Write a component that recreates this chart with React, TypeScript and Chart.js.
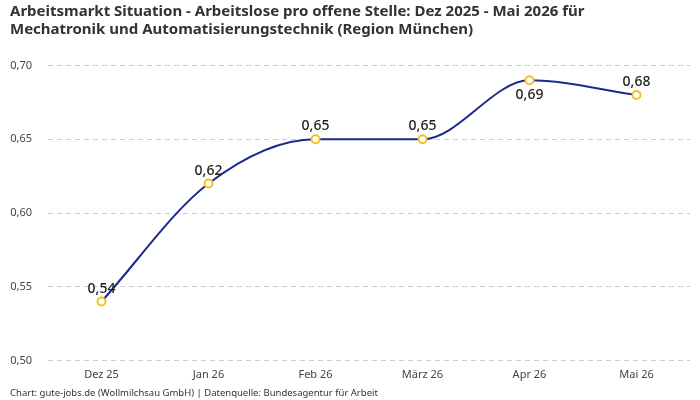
import React, { useEffect, useRef } from "react";
import { Chart, registerables } from "chart.js";

Chart.register(...registerables);

const categories = ["Dez 25", "Jan 26", "Feb 26", "März 26", "Apr 26", "Mai 26"];
const values = [0.54, 0.62, 0.65, 0.65, 0.69, 0.68];
const labelBelow = [false, false, false, false, true, false];
const titleLines = [
  "Arbeitsmarkt Situation - Arbeitslose pro offene Stelle: Dez 2025 - Mai 2026 für",
  "Mechatronik und Automatisierungstechnik (Region München)",
];
const footerText = "Chart: gute-jobs.de (Wollmilchsau GmbH) | Datenquelle: Bundesagentur für Arbeit";

const FONT = "'Noto Sans', 'DejaVu Sans', sans-serif";

const valueLabels = {
  id: "valueLabels",
  afterDatasetsDraw(chart: any) {
    const ctx = chart.ctx;
    const meta = chart.getDatasetMeta(0);
    ctx.save();
    ctx.font = `500 14px ${FONT}`;
    ctx.fillStyle = "#222";
    ctx.textAlign = "center";
    meta.data.forEach((pt: any, i: number) => {
      const txt = values[i].toFixed(2).replace(".", ",");
      if (labelBelow[i]) {
        ctx.textBaseline = "top";
        ctx.fillText(txt, pt.x, pt.y + 8);
      } else {
        ctx.textBaseline = "bottom";
        ctx.fillText(txt, pt.x, pt.y - 6);
      }
    });
    ctx.restore();
  },
};

export default function App() {
  const ref = useRef<HTMLCanvasElement>(null);
  useEffect(() => {
    document.body.style.margin = "0";
    const chart = new Chart(ref.current!, {
      type: "line",
      data: {
        labels: categories,
        datasets: [
          {
            data: values,
            borderColor: "#1b2a8f",
            borderWidth: 2,
            cubicInterpolationMode: "monotone",
            pointRadius: 4,
            pointBorderWidth: 2,
            pointBackgroundColor: "#ffffff",
            pointBorderColor: "#f5c022",
          },
        ],
      },
      options: {
        responsive: false,
        animation: false,
        layout: { padding: { left: 10, right: 10, top: 0, bottom: 0 } },
        plugins: {
          legend: { display: false },
          tooltip: { enabled: false },
          title: {
            display: true,
            text: titleLines,
            align: "start",
            color: "#333",
            font: { family: FONT, size: 15, weight: "bold", lineHeight: 1.25 },
            padding: { top: 2, bottom: 26 },
          },
          subtitle: {
            display: true,
            position: "bottom",
            text: footerText,
            align: "start",
            color: "#333",
            font: { family: FONT, size: 9.5 },
            padding: { top: 5, bottom: 1 },
          },
        },
        scales: {
          x: {
            offset: true,
            afterFit: (scale: any) => {
              scale.height = 22;
            },
            grid: { display: false, drawTicks: false },
            border: { display: false },
            ticks: { color: "#444", font: { family: FONT, size: 11 }, padding: 8 },
          },
          y: {
            min: 0.5,
            max: 0.7,
            afterFit: (scale: any) => {
              scale.width = 38;
            },
            border: { display: false, dash: [5, 4] },
            grid: { color: "#cccccc", drawTicks: false },
            ticks: {
              stepSize: 0.05,
              color: "#444",
              padding: 16,
              font: { family: FONT, size: 11 },
              callback: (v: any) => Number(v).toFixed(2).replace(".", ","),
            },
          },
        },
      },
      plugins: [valueLabels],
    });
    return () => chart.destroy();
  }, []);
  return (
    <div style={{ width: 700, height: 400 }}>
      <canvas ref={ref} width={700} height={400} />
    </div>
  );
}
